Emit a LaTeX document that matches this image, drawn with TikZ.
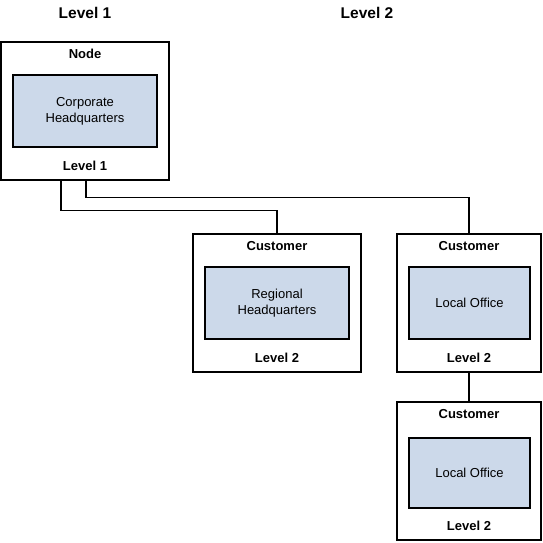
\documentclass[tikz,border=0pt]{standalone}
\usepackage{fontspec}
\setmainfont{Liberation Sans}
\usepackage{tikz}

\definecolor{unitfill}{RGB}{204,217,234}

\begin{document}
\begin{tikzpicture}[x=1pt,y=-1pt,line width=1.2pt]
\tikzstyle{outer}=[draw,rectangle,minimum height=138pt,inner sep=0pt]
\tikzstyle{unit}=[draw,rectangle,fill=unitfill,minimum height=72pt,inner sep=0pt,align=center,font=\fontsize{13}{16}\selectfont]
\tikzstyle{tag}=[font=\fontsize{13}{15}\selectfont\bfseries]
\tikzstyle{head}=[font=\fontsize{15.5}{18}\selectfont\bfseries]
\useasboundingbox (0,0) rectangle (543,542);
% column headings
\node[head] (h1) at (85,13) {Level 1};
\node[head] (h2) at (367,13) {Level 2};
% corporate level
\node[outer,minimum width=168pt] (corp) at (85,111) {};
\node[unit,minimum width=144pt] (corpin) at (85,111) {Corporate\\Headquarters};
\node[tag] (corptop) at (85,54) {Node};
\node[tag] (corpbot) at (85,166) {Level 1};
% regional
\node[outer,minimum width=168pt] (reg) at (277,303) {};
\node[unit,minimum width=144pt] (regin) at (277,303) {Regional\\Headquarters};
\node[tag] (regtop) at (277,246) {Customer};
\node[tag] (regbot) at (277,358) {Level 2};
% local offices
\node[outer,minimum width=144pt] (loca) at (469,303) {};
\node[unit,minimum width=121pt] (locain) at (469.5,303) {Local Office};
\node[tag] (locatop) at (469,246) {Customer};
\node[tag] (locabot) at (469,358) {Level 2};
\node[outer,minimum width=144pt] (locb) at (469,471) {};
\node[unit,minimum width=121pt,minimum height=70pt] (locbin) at (469.5,473) {Local Office};
\node[tag] (locbtop) at (469,414) {Customer};
\node[tag] (locbbot) at (469,526) {Level 2};
% links
\draw ([xshift=-24pt]corp.south) -- ++(0,30) -| (reg.north);
\draw ([xshift=1pt]corp.south) -- ++(0,17) -| (loca.north);
\draw (loca.south) -- (locb.north);
\end{tikzpicture}
\end{document}
